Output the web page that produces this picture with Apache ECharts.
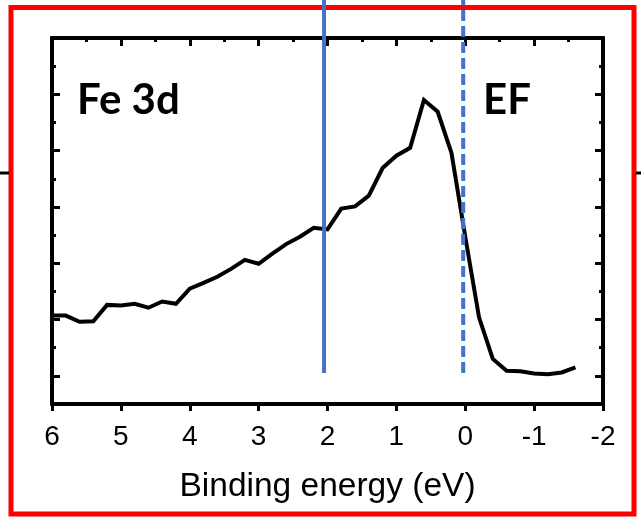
<!DOCTYPE html>
<html>
<head>
<meta charset="utf-8">
<script src="https://cdn.jsdelivr.net/npm/echarts@6/dist/echarts.min.js"></script>
<style>
  html, body { margin: 0; padding: 0; background: #fff; }
  #chart { width: 641px; height: 519px; }
</style>
</head>
<body>
<div id="chart"></div>
<script>
// Fe 3d valence-band spectrum (arbitrary intensity units)
const energy = [6.0, 5.8, 5.6, 5.4, 5.2, 5.0, 4.8, 4.6, 4.4, 4.2, 4.0, 3.8, 3.6, 3.4, 3.2, 3.0,
  2.8, 2.6, 2.4, 2.2, 2.0, 1.8, 1.6, 1.4, 1.2, 1.0, 0.8, 0.6, 0.4, 0.2, 0.0,
  -0.2, -0.4, -0.6, -0.8, -1.0, -1.2, -1.4, -1.6];
const intensity = [1.07, 1.07, 0.96, 0.97, 1.26, 1.25, 1.28, 1.21, 1.32, 1.28, 1.55, 1.65, 1.76, 1.90, 2.06, 1.99,
  2.17, 2.34, 2.47, 2.63, 2.60, 2.97, 3.01, 3.20, 3.69, 3.91, 4.05, 4.90, 4.69, 3.96, 2.47,
  1.04, 0.30, 0.09, 0.08, 0.04, 0.03, 0.06, 0.15];

// vertical guide lines
const guideEnergy = 2.05;
const fermiEnergy = 0.03;
const guideSpan = [0.05, 6.7];

const xTicks = [6, 5, 4, 3, 2, 1, 0, -1, -2];
const yMajorTicks = [0, 1, 2, 3, 4, 5, 6];
const yMinorTicks = [-0.5, 0.5, 1.5, 2.5, 3.5, 4.5, 5.5];

const chart = echarts.init(document.getElementById('chart'), null, { renderer: 'canvas' });

const axisLine = { show: true, onZero: false, lineStyle: { color: '#000', width: 4 } };
const X_MIN = Math.min(...xTicks), X_MAX = Math.max(...xTicks);
const Y_MIN = -0.5, Y_MAX = 6;

function yAxis(position, ticks, len) {
  return {
    type: 'value', position: position, min: Y_MIN, max: Y_MAX, interval: 0.5,
    axisLine: axisLine,
    axisTick: { show: true, inside: true, length: len, customValues: ticks, lineStyle: { color: '#000', width: 3 } },
    axisLabel: { show: false }, splitLine: { show: false }
  };
}

const option = {
  backgroundColor: '#fff',
  animation: false,
  grid: { left: 52, right: 38, top: 38, bottom: 115 },
  xAxis: [
    {
      type: 'value', position: 'bottom', min: X_MIN, max: X_MAX, interval: 1, inverse: true,
      axisLine: axisLine,
      axisTick: { show: true, inside: false, length: 7, lineStyle: { color: '#000', width: 3 } },
      axisLabel: { show: true, fontSize: 28, color: '#000', fontFamily: 'Liberation Sans, Arial', margin: 19 },
      splitLine: { show: false },
      name: 'Binding energy (eV)', nameLocation: 'middle', nameGap: 66,
      nameTextStyle: { fontSize: 33.5, color: '#000', fontFamily: 'Liberation Sans, Arial' }
    },
    {
      type: 'value', position: 'top', min: X_MIN, max: X_MAX, interval: 1, inverse: true,
      axisLine: axisLine,
      axisTick: { show: true, inside: true, length: 8, lineStyle: { color: '#000', width: 3 } },
      minorTick: { show: true, splitNumber: 2, length: 4, lineStyle: { color: '#000', width: 3 } },
      axisLabel: { show: false }, splitLine: { show: false }, minorSplitLine: { show: false }
    }
  ],
  yAxis: [
    yAxis('left', yMinorTicks, 4),
    yAxis('left', yMajorTicks, 8),
    yAxis('right', yMinorTicks, 4),
    yAxis('right', yMajorTicks, 8)
  ],
  graphic: [
    { type: 'rect', z: 1, shape: { x: 11, y: 7.5, width: 623, height: 506.5 },
      style: { fill: 'none', stroke: '#ff0000', lineWidth: 5 } },
    { type: 'line', z: 1, shape: { x1: 0, y1: 173, x2: 9, y2: 173 }, style: { stroke: '#000', lineWidth: 3 } },
    { type: 'line', z: 1, shape: { x1: 636, y1: 173, x2: 641, y2: 173 }, style: { stroke: '#000', lineWidth: 3 } },
    { type: 'text', z: 10, x: 77, y: 100,
      style: { text: 'Fe 3d', font: 'bold 42px Lato', fill: '#000', verticalAlign: 'middle' } },
    { type: 'text', z: 10, x: 483, y: 100,
      style: { text: 'EF', font: 'bold 42px Lato', fill: '#000', verticalAlign: 'middle' } }
  ],
  series: [
    {
      type: 'line', xAxisIndex: 0, yAxisIndex: 0, z: 3,
      data: energy.map((e, i) => [e, intensity[i]]),
      symbol: 'none', lineStyle: { color: '#000', width: 4, join: 'miter' }
    },
    {
      type: 'line', xAxisIndex: 0, yAxisIndex: 0, z: 5, clip: false,
      data: guideSpan.map(v => [guideEnergy, v]),
      symbol: 'none', lineStyle: { color: '#4472C4', width: 4 }
    },
    {
      type: 'line', xAxisIndex: 0, yAxisIndex: 0, z: 5, clip: false,
      data: guideSpan.map(v => [fermiEnergy, v]),
      symbol: 'none', lineStyle: { color: '#4472C4', width: 4, type: [11, 5] }
    }
  ]
};

chart.setOption(option);
</script>
</body>
</html>
